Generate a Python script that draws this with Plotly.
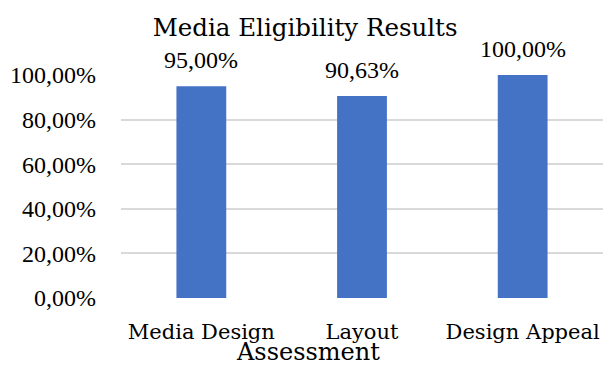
import plotly.graph_objects as go

categories = ["Media Design", "Layout", "Design Appeal"]
values = [0.95, 0.9063, 1.00]
tick_vals = [0, 0.2, 0.4, 0.6, 0.8, 1.0]

NUM_FONT = "Liberation Serif"
TXT_FONT = "DejaVu Serif"
BLUE = "#4472C4"

fig = go.Figure()
fig.add_trace(go.Bar(
    x=categories, y=values, marker_color=BLUE, marker_line_width=0,
    width=0.31, hoverinfo="skip",
))

for c, v in zip(categories, values):
    fig.add_annotation(
        x=c, y=v, text=f"{v*100:.2f}%".replace(".", ","),
        showarrow=False, yanchor="bottom", yshift=11,
        font=dict(family=NUM_FONT, size=24, color="#000000"),
    )

fig.add_annotation(
    text="Assessment", xref="paper", yref="paper", x=0.387, y=-0.24,
    xanchor="center", yanchor="middle", showarrow=False,
    font=dict(family=TXT_FONT, size=24, color="#000000"),
)

fig.update_layout(
    width=603, height=365,
    margin=dict(l=121, r=0, t=75, b=67),
    paper_bgcolor="white", plot_bgcolor="white",
    separators=",.",
    showlegend=False,
    title=dict(text="Media Eligibility Results", x=0.506, xanchor="center",
               y=0.926, yanchor="middle",
               font=dict(family=TXT_FONT, size=24.5, color="#000000")),
    font=dict(family=TXT_FONT, color="#000000"),
)
fig.update_yaxes(
    range=[0, 1.0], tickvals=tick_vals, tickformat=".2%",
    showgrid=True, gridcolor="#d9d9d9", gridwidth=1.5,
    zeroline=False, showline=False, ticks="",
    tickfont=dict(family=NUM_FONT, size=24, color="#000000"),
    ticklabelstandoff=24,
)
fig.update_xaxes(
    showgrid=False, zeroline=False, showline=False, ticks="",
    tickfont=dict(family=TXT_FONT, size=21, color="#000000"),
    ticklabelstandoff=19,
)

fig.write_html("out.html", config={"displayModeBar": False},
               post_script="document.body.style.margin='0';")
